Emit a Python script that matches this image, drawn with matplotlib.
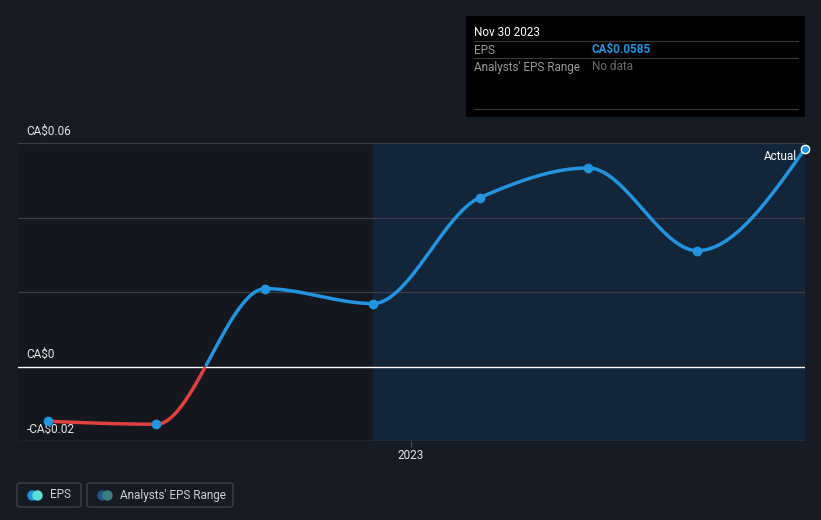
import numpy as np
import pandas as pd
import matplotlib
matplotlib.use('Agg')
import matplotlib.pyplot as plt
import matplotlib.dates as mdates
from matplotlib.patches import Rectangle, FancyBboxPatch
from matplotlib.lines import Line2D

# EPS data
dates = ['2022-02-28', '2022-05-31', '2022-08-31', '2022-11-30',
         '2023-02-28', '2023-05-31', '2023-08-31', '2023-11-30']
eps = [-0.0147, -0.0155, 0.0209, 0.0169, 0.0453, 0.0533, 0.0311, 0.0585]
y_ticks = [-0.02, 0, 0.06]
y_tick_labels = ['-CA$0.02', 'CA$0', 'CA$0.06']

plt.rcParams['font.family'] = ['Roboto', 'DejaVu Sans']

BG = '#151a23'
BLUE = '#2394df'
RED = '#e0403f'
W, H = 821, 520

fig = plt.figure(figsize=(W / 100, H / 100), dpi=100, facecolor=BG)


def fx(px):
    return px / W


def fy(py):
    return 1 - py / H


ax = fig.add_axes([fx(18), fy(441), fx(805) - fx(18), fy(143) - fy(441)])
ax.set_facecolor(BG)

x = mdates.date2num(pd.to_datetime(dates))
y = np.array(eps)
x0 = mdates.date2num(pd.Timestamp('2022-02-03'))
ax.set_xlim(x0, x[-1])
ax.set_ylim(-0.02, 0.06)

# past / future shading
ax.axvspan(x0, x[3], color='#14171d', zorder=0)
ax.axvspan(x[3], x[-1], color='#132538', zorder=0)

# grid lines
for g in [0.02, 0.04, 0.06]:
    ax.axhline(g, color='#3b4049', lw=0.9, zorder=1)
ax.axhline(-0.02, color='#4a4f57', lw=1, zorder=1)
ax.axhline(0, color='white', lw=1, zorder=2)


# monotone cubic smoothing of the line (like d3 curveMonotoneX)
def monotone(xs, ys, n=60):
    h = np.diff(xs)
    d = np.diff(ys) / h
    m = np.zeros(len(xs))
    for i in range(1, len(xs) - 1):
        if d[i - 1] * d[i] <= 0:
            m[i] = 0
        else:
            m[i] = (h[i - 1] + h[i]) * 3 / ((2 * h[i] + h[i - 1]) / d[i - 1] + (h[i] + 2 * h[i - 1]) / d[i])
    m[0] = (3 * d[0] - m[1]) / 2
    m[-1] = (3 * d[-1] - m[-2]) / 2
    xx, yy = [], []
    for i in range(len(xs) - 1):
        t = np.linspace(0, 1, n)
        h00 = 2 * t**3 - 3 * t**2 + 1
        h10 = t**3 - 2 * t**2 + t
        h01 = -2 * t**3 + 3 * t**2
        h11 = t**3 - t**2
        xx.append(xs[i] + t * h[i])
        yy.append(h00 * ys[i] + h10 * h[i] * m[i] + h01 * ys[i + 1] + h11 * h[i] * m[i + 1])
    return np.concatenate(xx), np.concatenate(yy)


sx, sy = monotone(x, y)
ax.plot(sx, np.where(sy >= 0, sy, np.nan), color=BLUE, lw=2.5, zorder=3,
        solid_capstyle='round', clip_on=False)
neg = np.where(sy <= 0.0003, sy, np.nan)
ax.plot(sx, neg, color=RED, lw=2.5, zorder=3, solid_capstyle='round', clip_on=False)
ax.scatter(x[:-1], y[:-1], s=36, color=BLUE, zorder=4, clip_on=False)
ax.scatter(x[-1:], y[-1:], s=36, color=BLUE, edgecolor='white', lw=1, zorder=4, clip_on=False)

ax.set_xticks([mdates.date2num(pd.Timestamp('2023-01-01'))])
ax.set_xticklabels(['2023'])
ax.tick_params(axis='x', colors='#4a4f57', length=4, labelcolor='#e6e6e6', labelsize=8.5, pad=2)
ax.set_yticks([])
for s in ax.spines.values():
    s.set_visible(False)

# y labels drawn above grid lines
for v, lab in zip(y_ticks, y_tick_labels):
    ax.annotate(lab, (0, v), xycoords=('axes fraction', 'data'), xytext=(6, 4),
                textcoords='offset points', color='#e6e6e6', fontsize=8.5, va='bottom', ha='left')

ax.annotate('Actual', (x[-1], y[-1]), xytext=(-6, -1), textcoords='offset points',
            color='white', fontsize=8.5, ha='right', va='top')

# tooltip box
fig.patches.append(Rectangle((fx(466), fy(117)), fx(805) - fx(466), fy(16) - fy(117),
                             transform=fig.transFigure, facecolor='black', edgecolor='none'))
fig.text(fx(474), fy(32), 'Nov 30 2023', color='white', fontsize=8.5, va='center')
for ly in [41, 58, 109]:
    fig.add_artist(Line2D([fx(474), fx(798)], [fy(ly), fy(ly)], color='#3a3a3a', lw=0.8))
fig.text(fx(474), fy(50), 'EPS', color='#9a9a9a', fontsize=8.5, va='center')
fig.text(fx(592), fy(50), 'CA$%.4f' % eps[-1], color=BLUE, fontsize=8.5, va='center',
         fontweight='bold')
fig.text(fx(474), fy(67), "Analysts' EPS Range", color='#9a9a9a', fontsize=8.5, va='center')
fig.text(fx(592), fy(67), 'No data', color='#6a6a6a', fontsize=8.5, va='center')

# legend boxes
for bx, bw in [(17, 64), (87, 146)]:
    fig.patches.append(FancyBboxPatch((fx(bx), fy(507)), fx(bw), fy(483) - fy(507),
                                      boxstyle='round,pad=0,rounding_size=0.004',
                                      transform=fig.transFigure, facecolor=BG,
                                      edgecolor='#3d424b', lw=1))
fig.add_artist(Line2D([fx(32)], [fy(494.5)], marker='o', ms=6.5, color=BLUE, lw=0))
fig.add_artist(Line2D([fx(37)], [fy(494.5)], marker='o', ms=6.5, color='#5de0d6', lw=0))
fig.text(fx(50), fy(495), 'EPS', color='#d0d0d0', fontsize=8.5, va='center')
fig.add_artist(Line2D([fx(102)], [fy(494.5)], marker='o', ms=6.5, color='#23548a', lw=0))
fig.add_artist(Line2D([fx(107)], [fy(494.5)], marker='o', ms=6.5, color='#3a7f7f', lw=0))
fig.text(fx(120), fy(495), "Analysts' EPS Range", color='#d0d0d0', fontsize=8.5, va='center')

plt.savefig('out.png', dpi=100, facecolor=BG)
